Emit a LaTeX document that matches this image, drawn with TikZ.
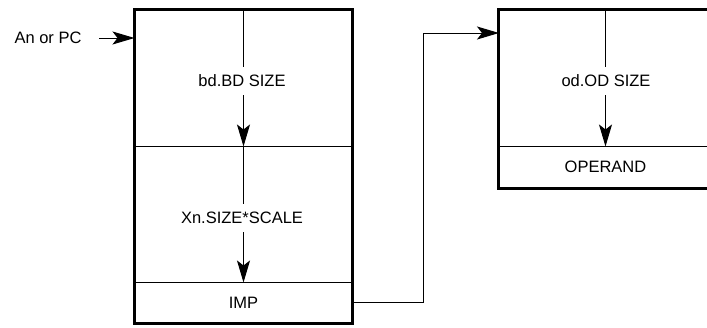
\documentclass[tikz,border=0pt]{standalone}
\usepackage{fontspec}
\setmainfont{Liberation Sans}
\usetikzlibrary{arrows.meta}

\begin{document}
\begin{tikzpicture}[
  x=1pt, y=-1pt,
  >={Stealth[length=22pt,width=13pt,inset=5pt]},
  line cap=butt,
  every node/.style={font=\fontsize{16.5}{19}\selectfont},
  cell/.style={draw, line width=1pt, minimum width=217pt, inner sep=0pt},
  rcell/.style={draw, line width=1pt, minimum width=213pt, inner sep=0pt},
  lbl/.style={fill=white, inner xsep=1pt, inner ysep=8pt},
  frame/.style={line width=2.2pt}
]
  \useasboundingbox (0,0) rectangle (707,327);

  % base / index block
  \node[cell, minimum height=136pt] (bd)  at (243.5,78)    {};
  \node[cell, minimum height=136pt] (xn)  at (243.5,214)   {};
  \node[cell, minimum height=41pt]  (imp) at (243.5,302.5) {IMP};
  \draw[frame] (bd.north west) rectangle (imp.south east);

  \draw[->, line width=1pt] (bd.north) -- (bd.south);
  \draw[->, line width=1pt] (xn.north) -- (xn.south);
  \node[lbl] (bdtxt) at (242,81)  {bd.BD SIZE};
  \node[lbl] (xntxt) at (242,218) {Xn.SIZE*SCALE};

  % outer displacement block
  \node[rcell, minimum height=136pt] (od)  at (605.5,78)  {};
  \node[rcell, minimum height=42pt]  (opd) at (605.5,167) {OPERAND};
  \draw[frame] (od.north west) rectangle (opd.south east);

  \draw[->, line width=1pt] (od.north) -- (od.south);
  \node[lbl] (odtxt) at (606,81) {od.OD SIZE};

  % entry and link
  \node (src) at (48,38) {An or PC};
  \draw[->, line width=1pt, shorten <=14pt] (src.east) -- (bd.west |- src.east);

  \coordinate (odin) at (499,33);
  \draw[->, line width=1pt] (imp.east) -- (423,302.5) |- (odin);
\end{tikzpicture}
\end{document}
